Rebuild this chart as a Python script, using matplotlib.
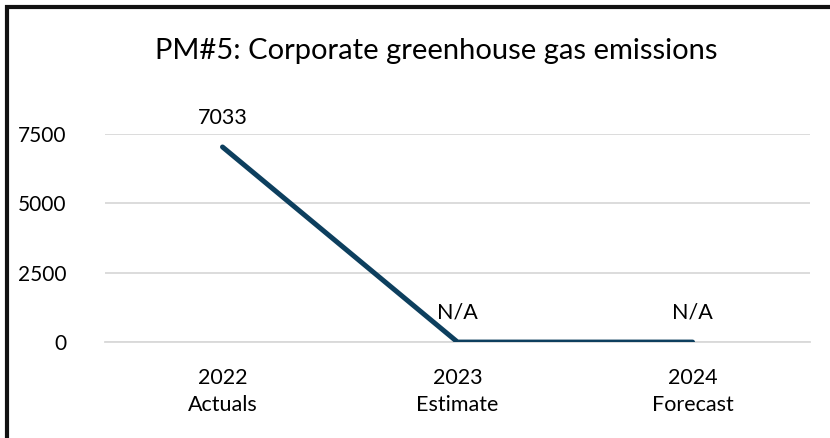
import matplotlib
matplotlib.use("Agg")
import matplotlib.pyplot as plt
from matplotlib.lines import Line2D

plt.rcParams["font.family"] = ["Lato", "DejaVu Sans"]

years = ["2022", "2023", "2024"]
kinds = ["Actuals", "Estimate", "Forecast"]
values = [7033, 0, 0]          # N/A drawn at zero, as in the source
point_labels = ["7033", "N/A", "N/A"]
y_ticks = [0, 2500, 5000, 7500]

line_color = "#0d3f5e"
grid_color = "#d9d9d9"

fig = plt.figure(figsize=(8.3, 4.38), dpi=100)
ax = fig.add_axes([0.1265, 0.219, 0.8495, 0.475])

x = list(range(len(years)))
ax.plot(x, values, color=line_color, lw=3.6, solid_capstyle="round", zorder=3)

for xi, v, lab in zip(x, values, point_labels):
    ax.annotate(lab, (xi, v), xytext=(0, 21), textcoords="offset points",
                ha="center", va="center", fontsize=15.5, color="#000000")

ax.set_xlim(-0.5, len(years) - 0.5)
ax.set_ylim(0, 7500)
ax.set_yticks(y_ticks)
ax.set_yticklabels([str(t) for t in y_ticks], fontsize=15)
ax.set_xticks(x)
ax.set_xticklabels([f"{y}\n{k}" for y, k in zip(years, kinds)], fontsize=15.5,
                   linespacing=1.4)
ax.tick_params(axis="both", length=0)
ax.tick_params(axis="y", pad=28)
ax.tick_params(axis="x", pad=19)
ax.grid(axis="y", color=grid_color, lw=1.3)
ax.set_axisbelow(True)
for s in ax.spines.values():
    s.set_visible(False)
ax.spines["bottom"].set_visible(True)
ax.spines["bottom"].set_color(grid_color)
ax.spines["bottom"].set_linewidth(1.3)

fig.text(436 / 830, 1 - 51 / 438, "PM#5: Corporate greenhouse gas emissions",
         ha="center", va="center", fontsize=21, color="#000000")

# black frame on the top and left edges
fig.add_artist(Line2D([5 / 830, 1.0], [1 - 6.5 / 438, 1 - 6.5 / 438],
                      color="#111111", lw=3.0, solid_capstyle="butt"))
fig.add_artist(Line2D([7 / 830, 7 / 830], [0.0, 1 - 5 / 438],
                      color="#111111", lw=3.0, solid_capstyle="butt"))

fig.savefig("out.png", dpi=100)
